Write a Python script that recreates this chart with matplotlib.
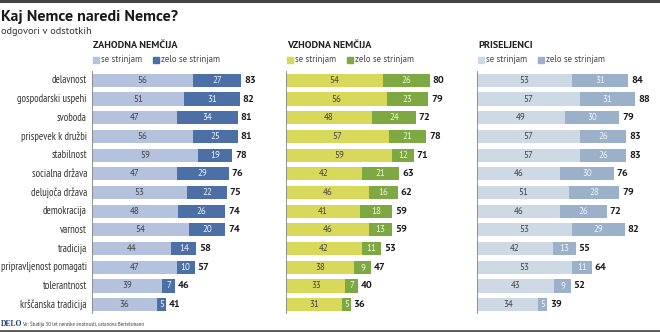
import matplotlib
matplotlib.use("Agg")
import matplotlib.pyplot as plt
from matplotlib.patches import Rectangle

plt.rcParams['font.family'] = ['PT Sans', 'DejaVu Sans']
NARROW = ['PT Sans Narrow', 'PT Sans', 'DejaVu Sans']

categories = ["delavnost", "gospodarski uspehi", "svoboda", "prispevek k družbi",
              "stabilnost", "socialna država", "delujoča država", "demokracija",
              "varnost", "tradicija", "pripravljenost pomagati", "tolerantnost",
              "krščanska tradicija"]

west_agree = [56, 51, 47, 56, 59, 47, 53, 48, 54, 44, 47, 39, 36]
west_strong = [27, 31, 34, 25, 19, 29, 22, 26, 20, 14, 10, 7, 5]
east_agree = [54, 56, 48, 57, 59, 42, 46, 41, 46, 42, 38, 33, 31]
east_strong = [26, 23, 24, 21, 12, 21, 16, 18, 13, 11, 9, 7, 5]
imm_agree = [53, 57, 49, 57, 57, 46, 51, 46, 53, 42, 53, 43, 34]
imm_strong = [31, 31, 30, 26, 26, 30, 28, 26, 29, 13, 11, 9, 5]

panel_titles = ["ZAHODNA NEMČIJA", "VZHODNA NEMČIJA", "PRISELJENCI"]
legend_labels = ["se strinjam", "zelo se strinjam"]

W, H = 660, 332
fig = plt.figure(figsize=(W / 100, H / 100), dpi=100)


def fx(px):
    return px / W


def fy(py):
    return 1 - py / H


# frame lines at top and bottom
fig.add_artist(plt.Line2D([0, 1], [fy(1), fy(1)], color="#444444", lw=2.2))
fig.add_artist(plt.Line2D([0, 1], [fy(330.5), fy(330.5)], color="#555555", lw=2.0))

fig.text(fx(1), fy(17), "Kaj Nemce naredi Nemce?", fontsize=11.5, fontweight="bold",
         color="#1a1a1a", va="center")
fig.text(fx(1), fy(32), "odgovori v odstotkih", fontsize=7.5, color="#333333",
         va="center")

panels = [
    (92, west_agree, west_strong, "#b4c2de", "#4c6fa5", "#eef2fa"),
    (286, east_agree, east_strong, "#d8d95a", "#7ea842", "#f0f4e0"),
    (477, imm_agree, imm_strong, "#cdd9e4", "#9bb0c9", "#f2f5f9"),
]

top, bottom = 71, 314
width_px = 180  # 100 % across the panel

for i, (x0, agree, strong, c1, c2, tc2) in enumerate(panels):
    ax = fig.add_axes([fx(x0), fy(bottom), fx(width_px), (bottom - top) / H])
    n = len(categories)
    y = list(range(n))
    ax.barh(y, agree, height=0.7, color=c1, linewidth=0)
    ax.barh(y, strong, left=agree, height=0.7, color=c2, linewidth=0)
    for k in range(n):
        ax.text(agree[k] / 2, k, str(agree[k]), ha="center", va="center",
                fontsize=6.5, color="#444444")
        ax.text(agree[k] + strong[k] / 2, k, str(strong[k]), ha="center", va="center",
                fontsize=6.5, color=tc2)
        ax.text(agree[k] + strong[k] + 1.5, k, str(agree[k] + strong[k]),
                ha="left", va="center", fontsize=7.5, fontweight="bold", color="#1a1a1a")
    ax.axvline(0, color="#8a8a8a", lw=1.3)
    ax.set_xlim(0, 100)
    ax.set_ylim(n - 0.5, -0.5)
    ax.axis("off")
    if i == 0:
        for k, cat in enumerate(categories):
            ax.text(-2.8, k, cat, ha="right", va="center", fontsize=7.6,
                    family=NARROW, color="#333333")

    # panel heading and legend
    fig.text(fx(x0 + 1), fy(45), panel_titles[i], fontsize=7.3, fontweight="bold",
             color="#222222", va="center")
    for j, (lab, col) in enumerate(zip(legend_labels, [c1, c2])):
        lx = x0 + 1 + j * 60
        fig.add_artist(Rectangle((fx(lx), fy(63)), fx(6), 6 / H, color=col,
                                 transform=fig.transFigure))
        fig.text(fx(lx + 8), fy(60), lab, fontsize=6.3, color="#444444", va="center")

fig.text(fx(1), fy(324), "DELO", fontsize=5.5, fontweight="bold", family="Liberation Serif",
         color="#1f3a6e", va="center")
fig.text(fx(22), fy(324), "Vir: Študija 30 let nemške enotnosti, ustanova Bertelsmann",
         fontsize=4.3, family=NARROW, color="#444444", va="center")

fig.savefig("out.png", dpi=100)
